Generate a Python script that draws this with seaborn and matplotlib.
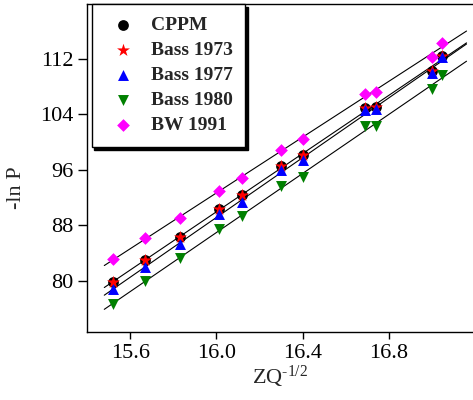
import numpy as np
import pandas as pd
import matplotlib
matplotlib.use("Agg")
import matplotlib.pyplot as plt
import seaborn as sns

# values
zq = [15.52, 15.67, 15.83, 16.01, 16.12, 16.30, 16.40, 16.69, 16.74, 17.00, 17.045]
cppm = [79.8, 83.0, 86.3, 90.3, 92.3, 96.6, 98.1, 104.9, 105.1, 110.3, 112.4]
bass1973 = [79.8, 83.0, 86.3, 90.3, 92.3, 96.6, 98.1, 104.9, 105.1, 110.3, 112.4]
bass1977 = [78.8, 82.0, 85.3, 89.6, 91.4, 96.0, 97.4, 104.6, 104.7, 109.9, 112.3]
bass1980 = [76.6, 80.0, 83.2, 87.4, 89.4, 93.7, 95.0, 102.3, 102.3, 107.6, 109.7]
bw1991 = [83.1, 86.1, 89.1, 93.0, 94.8, 98.9, 100.4, 106.9, 107.2, 112.3, 114.3]

yticks = [80, 88, 96, 104, 112]
xticks = [15.6, 16.0, 16.4, 16.8]

sns.set_style("ticks")
plt.rcParams['font.family'] = ['Liberation Serif', 'DejaVu Serif']
plt.rcParams['mathtext.fontset'] = 'custom'
plt.rcParams['mathtext.rm'] = 'Liberation Serif'
plt.rcParams['mathtext.it'] = 'Liberation Serif:italic'

df = pd.DataFrame({'zq': zq, 'CPPM': cppm, 'Bass 1973': bass1973,
                   'Bass 1977': bass1977, 'Bass 1980': bass1980, 'BW 1991': bw1991})

fig = plt.figure(figsize=(4.73, 4.0), dpi=100)
ax = fig.add_axes([0.184, 0.17, 0.816, 0.82])

# fitted lines
line_x = np.array([15.48, 17.16])
for col in ['BW 1991', 'CPPM', 'Bass 1977', 'Bass 1980']:
    k, b = np.polyfit(df['zq'], df[col], 1)
    ax.plot(line_x, k * line_x + b, color='black', lw=0.8, zorder=1)

series = [
    ('CPPM', 'o', 'black', 60),
    ('Bass 1973', '*', '#ff0000', 95),
    ('Bass 1977', '^', '#0000ff', 62),
    ('Bass 1980', 'v', '#008000', 62),
    ('BW 1991', 'D', '#ff00ff', 42),
]
for name, m, c, s in series:
    sns.scatterplot(data=df, x='zq', y=name, marker=m, color=c, s=s,
                    linewidth=0, label=name, ax=ax, zorder=3)

ax.set_xlim(15.4, 17.19)
ax.set_ylim(72.6, 119.9)
ax.set_xticks(xticks)
ax.set_xticklabels([f'{v:.1f}' for v in xticks])
ax.set_yticks(yticks)
ax.tick_params(axis='both', labelsize=16, width=1, color='black', labelcolor='black')
ax.tick_params(axis='x', length=5)
ax.tick_params(axis='y', length=6.5)

ax.set_xlabel('ZQ$^{\\text{-1/2}}$', fontsize=16, labelpad=1)
ax.set_ylabel('-ln P', fontsize=16)
ax.yaxis.set_label_coords(-0.158, 0.44)

for sp in ['left', 'bottom', 'top']:
    ax.spines[sp].set_color('black')
    ax.spines[sp].set_linewidth(1.0)
ax.spines['right'].set_visible(False)

leg = ax.legend(loc='upper left', bbox_to_anchor=(0.012, 1.0), borderaxespad=0,
                fancybox=False, edgecolor='black', framealpha=1,
                shadow={'color': 'black', 'alpha': 1},
                prop={'family': 'Liberation Serif', 'weight': 'bold', 'size': 14},
                borderpad=0.65, handlelength=1.96, handletextpad=0.43, labelspacing=0.38)
leg.get_frame().set_linewidth(1.0)

fig.savefig('out.png', dpi=100)
